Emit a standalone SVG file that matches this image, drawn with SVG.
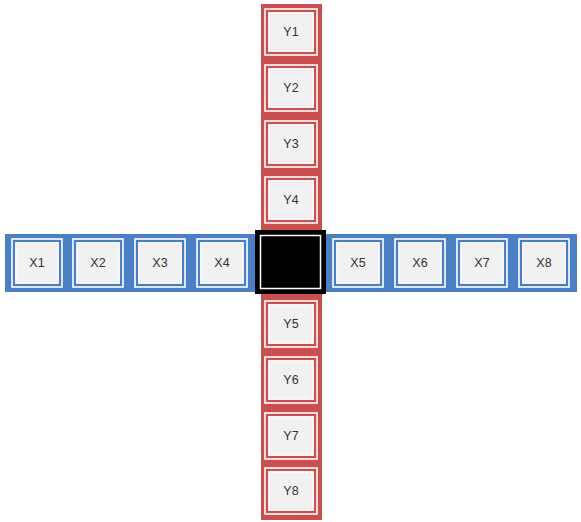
<svg xmlns="http://www.w3.org/2000/svg" width="581" height="522" viewBox="0 0 581 522">
<style>
.bg{fill:#ffffff}
.redstrip{fill:#c9504f}
.bluestrip{fill:#4a7fc1}
.cellw{fill:none;stroke:#ffffff;stroke-width:1.6}
.cellr{fill:#f1f1f1;stroke:#c9504f;stroke-width:1.2}
.cellb{fill:#f1f1f1;stroke:#4a7fc1;stroke-width:1.2}
.in{fill:none;stroke:#ffffff;stroke-width:1}
.t{font-family:"Liberation Sans",Arial,sans-serif;font-size:12.5px;fill:#333333;text-anchor:middle;dominant-baseline:central}
</style>
<rect class="bg" x="0" y="0" width="581" height="522"/>
<g id="strips">
<rect id="blue-strip" class="bluestrip" x="5" y="234" width="572" height="58"/>
<rect id="red-strip" class="redstrip" x="261" y="4" width="61" height="516"/>
</g>
<defs>
<g id="ycell">
<rect class="cellw" x="-26" y="-23" width="52" height="46"/>
<rect class="cellr" x="-23.5" y="-20.5" width="47" height="41"/>
<rect class="in" x="-22" y="-19" width="44" height="38"/>
</g>
<g id="xcell">
<rect class="cellw" x="-25" y="-24" width="50" height="48"/>
<rect class="cellb" x="-22.5" y="-21.5" width="45" height="43"/>
<rect class="in" x="-21" y="-20" width="42" height="40"/>
</g>
</defs>
<g id="Y1"><use href="#ycell" x="291" y="32"/><text class="t" x="291" y="32">Y1</text></g>
<g id="Y2"><use href="#ycell" x="291" y="88"/><text class="t" x="291" y="88">Y2</text></g>
<g id="Y3"><use href="#ycell" x="291" y="144"/><text class="t" x="291" y="144">Y3</text></g>
<g id="Y4"><use href="#ycell" x="291" y="200"/><text class="t" x="291" y="200">Y4</text></g>
<g id="Y5"><use href="#ycell" x="291" y="324"/><text class="t" x="291" y="324">Y5</text></g>
<g id="Y6"><use href="#ycell" x="291" y="380"/><text class="t" x="291" y="380">Y6</text></g>
<g id="Y7"><use href="#ycell" x="291" y="436"/><text class="t" x="291" y="436">Y7</text></g>
<g id="Y8"><use href="#ycell" x="291" y="491"/><text class="t" x="291" y="491">Y8</text></g>
<g id="X1"><use href="#xcell" x="37" y="263"/><text class="t" x="37" y="263">X1</text></g>
<g id="X2"><use href="#xcell" x="98" y="263"/><text class="t" x="98" y="263">X2</text></g>
<g id="X3"><use href="#xcell" x="160" y="263"/><text class="t" x="160" y="263">X3</text></g>
<g id="X4"><use href="#xcell" x="222" y="263"/><text class="t" x="222" y="263">X4</text></g>
<g id="X5"><use href="#xcell" x="358" y="263"/><text class="t" x="358" y="263">X5</text></g>
<g id="X6"><use href="#xcell" x="420" y="263"/><text class="t" x="420" y="263">X6</text></g>
<g id="X7"><use href="#xcell" x="482" y="263"/><text class="t" x="482" y="263">X7</text></g>
<g id="X8"><use href="#xcell" x="544" y="263"/><text class="t" x="544" y="263">X8</text></g>
<g id="center">
<rect x="255" y="230" width="71" height="64" fill="#000000"/>
<rect x="260.5" y="235.5" width="60" height="53" fill="none" stroke="#ffffff" stroke-width="1.5"/>
</g>
</svg>
